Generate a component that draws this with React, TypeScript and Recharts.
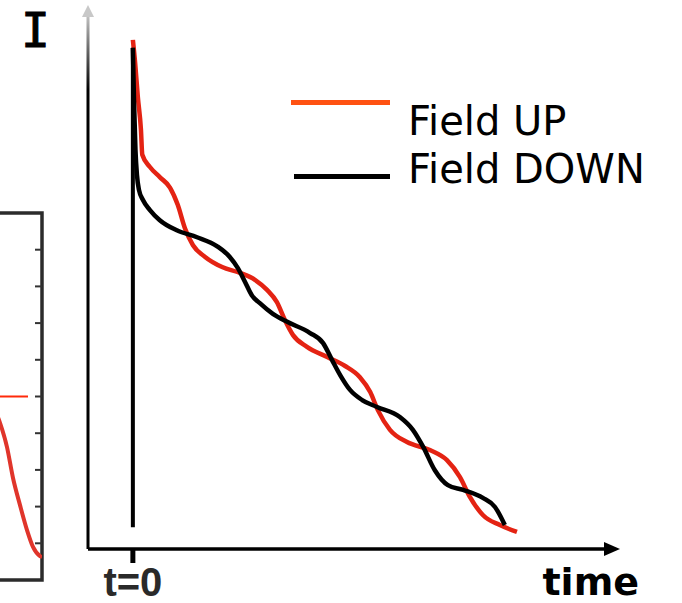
import React from 'react';
import { LineChart, Line, XAxis, YAxis, Legend, Label, ReferenceArea } from 'recharts';

// current I (in % of the peak) vs time (arbitrary units), t = 0 at the pulse
const fieldUpTime = [0, 0.05, 0.11, 0.18, 0.21, 0.38, 0.6, 0.83, 1.0, 1.16, 1.34, 1.61, 1.99, 2.39, 2.72, 2.99, 3.21, 3.39, 3.57, 3.88, 4.33, 4.73, 5.06, 5.29, 5.46, 5.73, 6.11, 6.62, 7.0, 7.29, 7.51, 7.8, 8.18, 8.56];
const fieldUpCurrent = [95.7, 91.4, 85.0, 78.8, 74.1, 71.8, 69.9, 67.9, 64.7, 60.3, 57.1, 54.9, 53.0, 51.9, 50.6, 48.7, 46.4, 43.0, 40.2, 38.0, 36.1, 34.4, 32.3, 29.5, 26.1, 22.4, 20.1, 18.6, 16.7, 13.5, 9.8, 6.4, 4.5, 3.2];

const fieldDownTime = [0, 0.025, 0.058, 0.091, 0.136, 0.225, 0.38, 0.6, 0.98, 1.43, 1.88, 2.16, 2.34, 2.5, 2.65, 2.83, 3.12, 3.44, 3.95, 4.24, 4.44, 4.62, 4.84, 5.11, 5.44, 5.95, 6.24, 6.47, 6.73, 7.02, 7.36, 7.8, 8.07, 8.29];
const fieldDownCurrent = [94.2, 84.4, 75.0, 70.3, 67.5, 65.6, 63.7, 61.8, 59.9, 58.6, 56.9, 54.9, 52.8, 50.2, 47.7, 46.2, 44.2, 42.7, 40.6, 38.7, 35.5, 32.7, 29.9, 28.0, 26.7, 24.8, 22.4, 19.2, 14.8, 12.0, 11.1, 9.6, 7.9, 4.5];

// the pulse itself at t = 0
const pulseTime = [0, 0];
const pulseCurrent = [4.1, 94.2];

const timeTicks = [0];
const legendOrder = ['Field UP', 'Field DOWN'];

// cropped neighbouring panel on the far left
const sideTime = [7.4, 7.9, 8.25, 8.55, 8.9, 9.25, 9.55, 9.9, 10];
const sideValue = [4.9, 4.28, 3.62, 2.78, 2.04, 1.36, 0.9, 0.65, 0.62];
const sideLevelTime = [6.5, 9.3];
const sideLevelValue = [5, 5];
const sideTicks = [1, 2, 3, 4, 5, 6, 7, 8, 9];

const toPoints = (xs: number[], ys: number[]) => xs.map((t, i) => ({ t, I: ys[i] }));

const fieldUp = toPoints(fieldUpTime, fieldUpCurrent);
const fieldDown = toPoints(fieldDownTime, fieldDownCurrent);
const pulse = toPoints(pulseTime, pulseCurrent);
const side = toPoints(sideTime, sideValue);
const sideLevel = toPoints(sideLevelTime, sideLevelValue);

const legendColors: Record<string, string> = { 'Field UP': '#ff5212', 'Field DOWN': '#000000' };

const LegendBox = ({ payload }: any) => {
  const items = (payload || [])
    .filter((p: any) => legendOrder.includes(p.value))
    .sort((a: any, b: any) => legendOrder.indexOf(a.value) - legendOrder.indexOf(b.value));
  return (
    <div style={{ position: 'relative', width: 391, height: 100 }}>
      {items.map((entry: any, index: number) => (
        <div key={entry.value} style={{ position: 'absolute', left: 0, top: index * 48, height: 48, width: 391 }}>
          <div
            style={{
              position: 'absolute',
              left: index === 0 ? 0 : 3,
              width: index === 0 ? 99 : 96,
              top: index === 0 ? 2.5 : 28.5,
              height: 5,
              background: legendColors[entry.value] || entry.color
            }}
          />
          <span
            style={{
              position: 'absolute',
              left: 117,
              top: 0,
              lineHeight: '48px',
              fontSize: 40,
              fontFamily: 'DejaVu Sans',
              color: '#000',
              whiteSpace: 'nowrap'
            }}
          >
            {entry.value}
          </span>
        </div>
      ))}
    </div>
  );
};

const InnerTick = ({ x, y }: any) => (
  <line x1={x - 7} x2={x} y1={y} y2={y} stroke="#333" strokeWidth={2} />
);

export default function App() {
  return (
    <div style={{ position: 'absolute', left: 0, top: 0, width: 682, height: 603, background: '#fff', overflow: 'hidden' }}>
      {/* neighbouring panel, cut by the page edge */}
      <div style={{ position: 'absolute', left: 0, top: 0, width: 46, height: 603, overflow: 'hidden' }}>
        <div style={{ marginLeft: -170 }}>
          <LineChart width={220} height={603} margin={{ top: 213, right: 7, bottom: 23, left: 12 }}>
            <XAxis type="number" dataKey="t" domain={[0, 10]} hide allowDataOverflow />
            <YAxis
              type="number"
              orientation="right"
              domain={[0, 10]}
              ticks={sideTicks}
              interval={0}
              width={1}
              tickSize={0}
              tickMargin={0}
              tickLine={false}
              axisLine={false}
              tick={<InnerTick />}
            />
            <ReferenceArea x1={0} x2={10} y1={0} y2={10} fill="none" fillOpacity={0} stroke="#2b2b2b" strokeWidth={3.5} />
            <Line data={sideLevel} dataKey="I" type="linear" stroke="#ff2a0a" strokeWidth={2} dot={false} isAnimationActive={false} />
            <Line data={side} dataKey="I" type="monotone" stroke="#e0352b" strokeWidth={4} dot={false} isAnimationActive={false} />
          </LineChart>
        </div>
      </div>

      <div style={{ position: 'absolute', left: 0, top: 0 }}>
        <LineChart width={682} height={603} margin={{ top: 17, right: 78, bottom: 0, left: 87 }}>
          <defs>
            <marker id="arrowX" markerWidth="16" markerHeight="14" refX="0" refY="7" orient="auto" markerUnits="userSpaceOnUse">
              <path d="M0,0 L16,7 L0,14 z" fill="#000" />
            </marker>
            <marker id="arrowY" markerWidth="12" markerHeight="12" refX="0" refY="6" orient="auto-start-reverse" markerUnits="userSpaceOnUse">
              <path d="M0,0 L12,6 L0,12 z" fill="#c8c8c8" />
            </marker>
            <linearGradient id="yFade" gradientUnits="userSpaceOnUse" x1="0" y1="10" x2="0" y2="90">
              <stop offset="0" stopColor="#d0d0d0" />
              <stop offset="1" stopColor="#000" />
            </linearGradient>
          </defs>
          <XAxis
            type="number"
            dataKey="t"
            domain={[-1, 10.5]}
            ticks={timeTicks}
            interval={0}
            height={54}
            tickSize={14}
            tickMargin={5}
            tickLine={{ stroke: '#000', strokeWidth: 5 }}
            axisLine={{ stroke: '#000', strokeWidth: 3.5, markerEnd: 'url(#arrowX)' }}
            tick={{ fontSize: 40, fontWeight: 700, fontFamily: 'Liberation Sans', fill: '#2a2a2a' }}
            tickFormatter={(v: number) => `t=${v}`}
            allowDataOverflow
          >
            <Label
              value="time"
              content={(props: any) => (
                <text x={639} y={595} textAnchor="end" fontSize={38} fontWeight={700} fontFamily="DejaVu Sans" fill="#000">
                  {props.value}
                </text>
              )}
            />
          </XAxis>
          <YAxis
            type="number"
            domain={[0, 100]}
            width={1}
            tick={false}
            tickLine={false}
            axisLine={{ stroke: 'url(#yFade)', strokeWidth: 3, markerStart: 'url(#arrowY)' }}
            allowDataOverflow
          >
            <Label
              value="I"
              content={(props: any) => (
                <text x={35.5} y={47} textAnchor="middle" fontSize={48} fontFamily="DejaVu Sans Mono" fill="#000" stroke="#000" strokeWidth={1}>
                  {props.value}
                </text>
              )}
            />
          </YAxis>
          <Legend
            layout="horizontal"
            verticalAlign="middle"
            align="center"
            content={<LegendBox />}
            wrapperStyle={{ position: 'absolute', left: 291, top: 97, width: 391 }}
          />
          <Line data={fieldUp} dataKey="I" name="Field UP" type="monotone" stroke="#e42313" strokeWidth={4.5} dot={false} isAnimationActive={false} />
          <Line data={fieldDown} dataKey="I" name="Field DOWN" type="monotone" stroke="#000" strokeWidth={4.5} dot={false} isAnimationActive={false} />
          <Line data={pulse} dataKey="I" name="pulse" legendType="none" type="linear" stroke="#000" strokeWidth={4} dot={false} isAnimationActive={false} />
        </LineChart>
      </div>
    </div>
  );
}
